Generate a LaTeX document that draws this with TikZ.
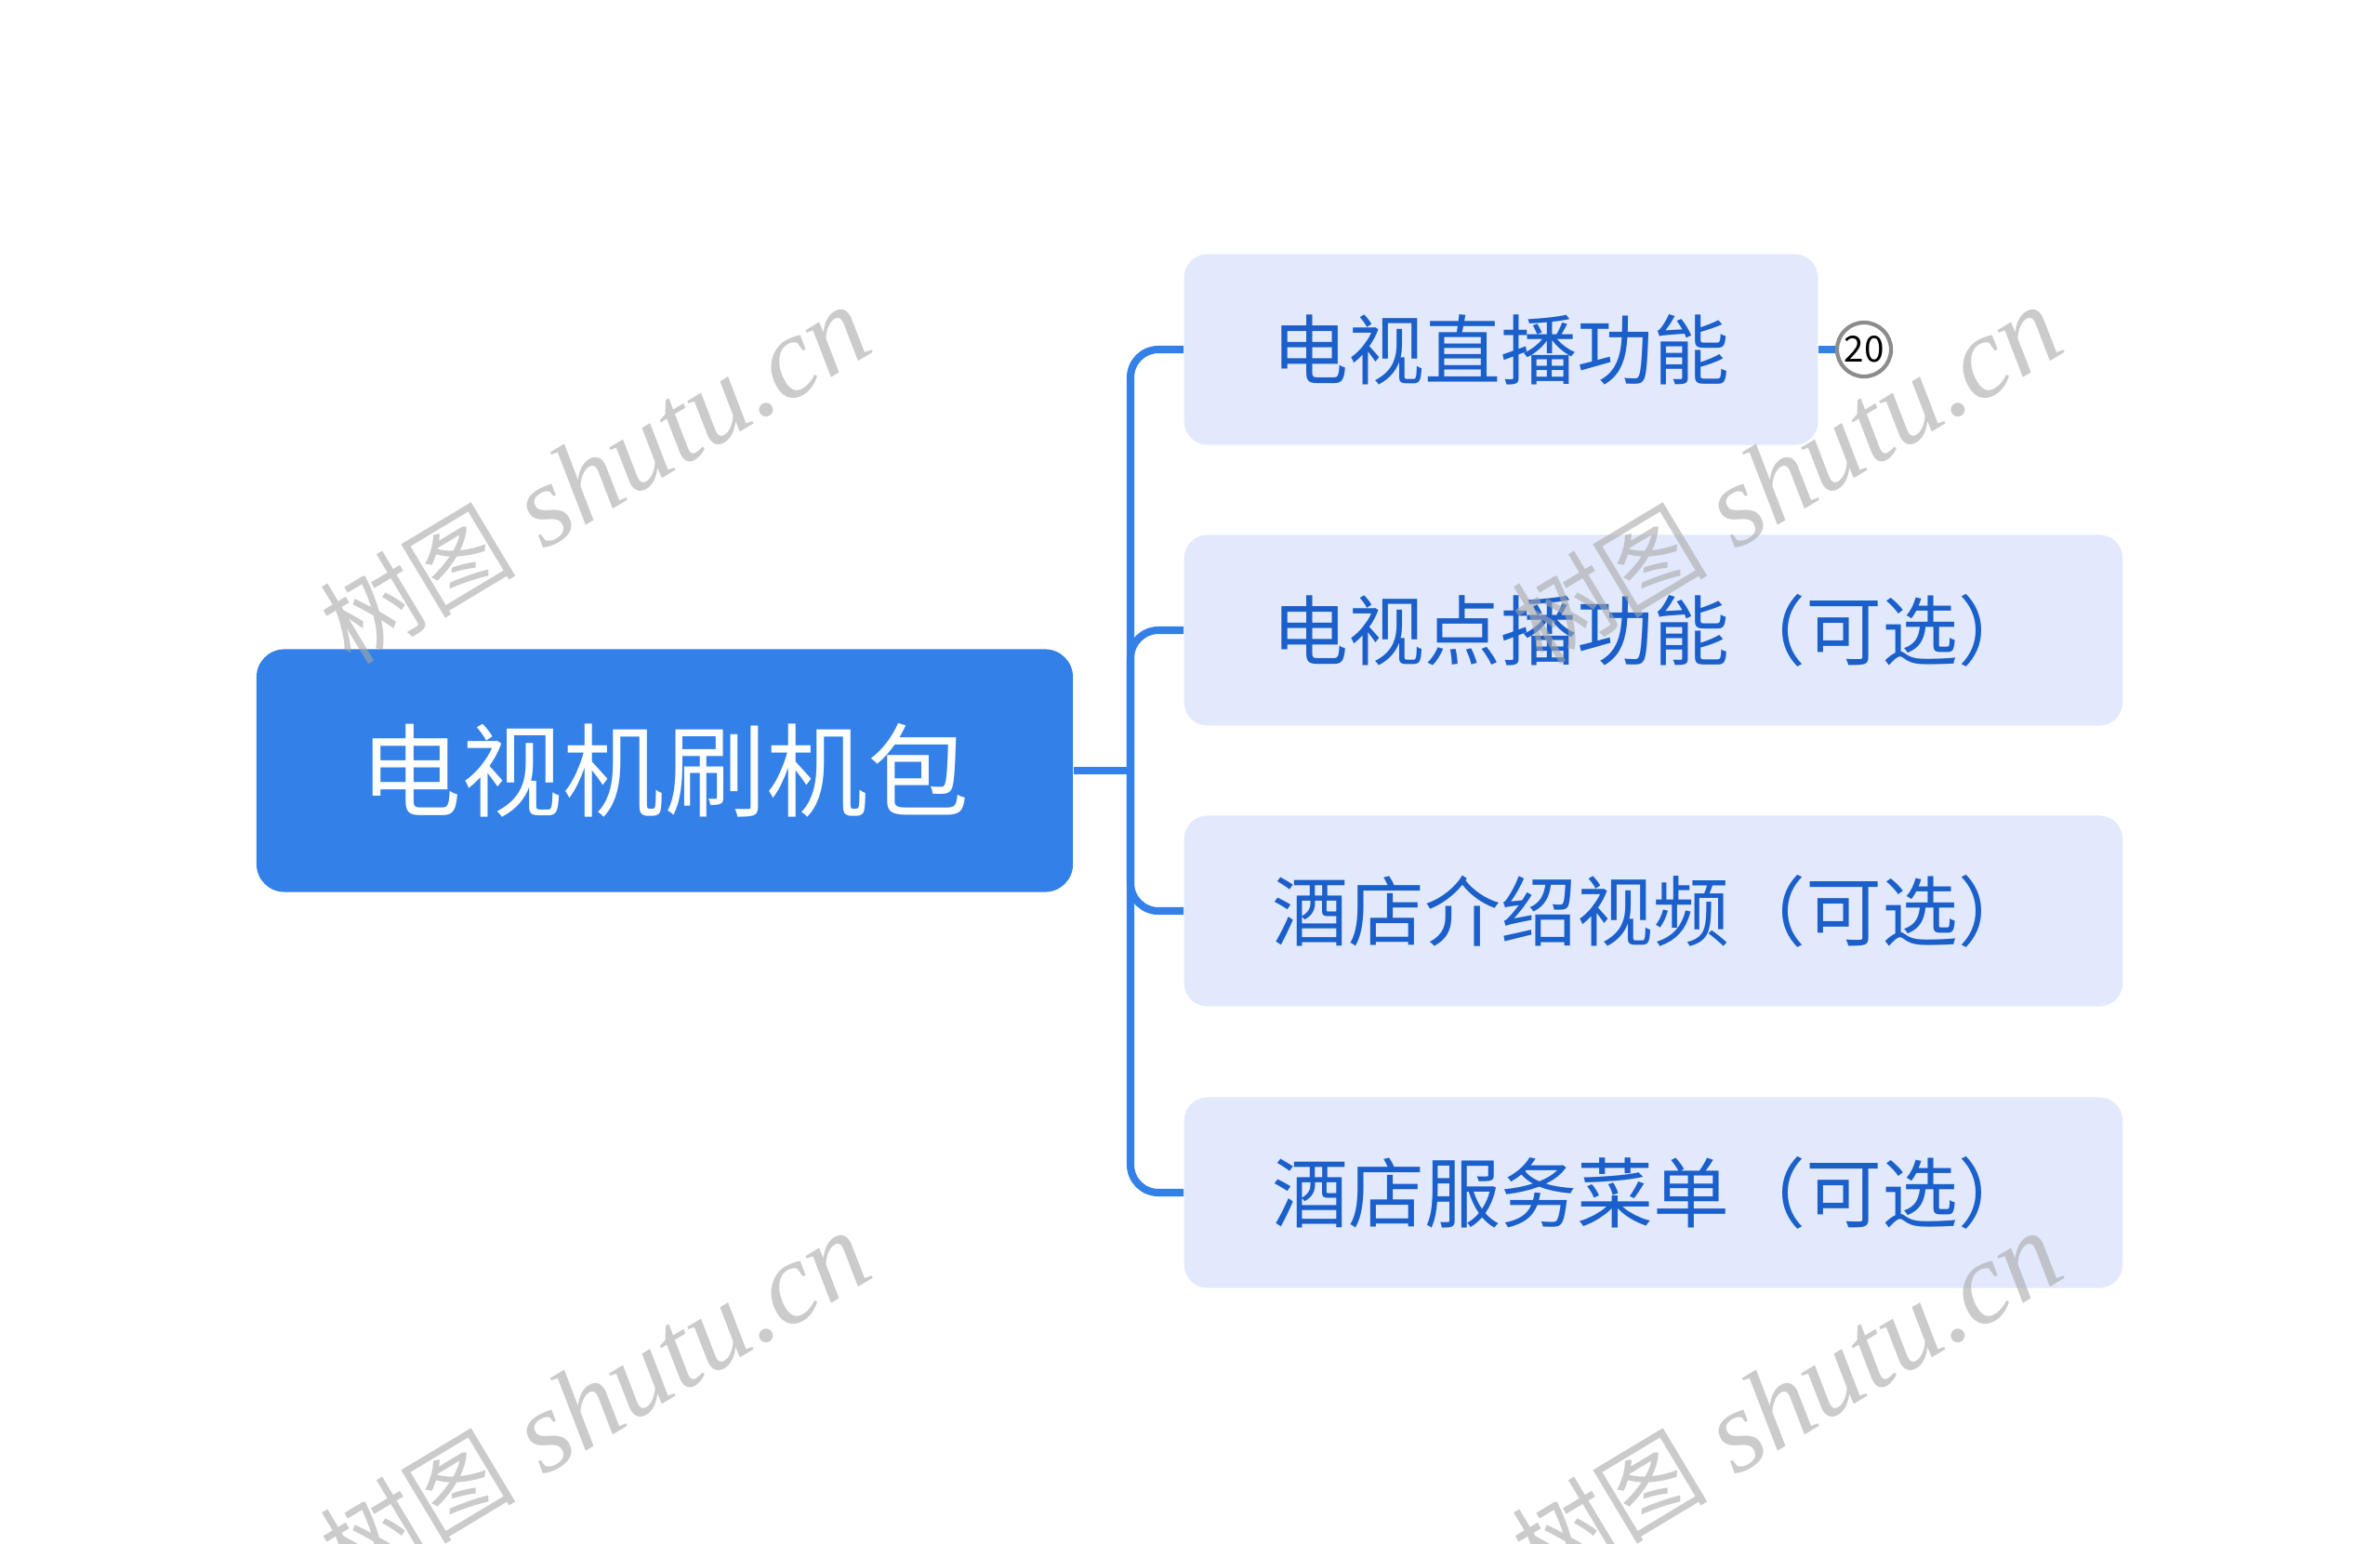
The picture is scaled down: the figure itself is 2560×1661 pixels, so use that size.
\documentclass[tikz,border=0pt]{standalone}
\usepackage{fontspec}
\setmainfont{Noto Sans CJK SC}
\newfontfamily\wmserif{Liberation Serif}
\newfontfamily\wmcjk{Noto Sans CJK SC}
\definecolor{rootblue}{HTML}{3280E8}
\definecolor{topicfill}{HTML}{E2E9FC}
\definecolor{topictext}{HTML}{1B5FCB}
\definecolor{badgegray}{HTML}{8C8C8C}
\definecolor{wmgray}{HTML}{A8A8A8}

\begin{document}
\begin{tikzpicture}[x=0.01cm,y=-0.01cm,
  rootbox/.style={fill=rootblue, rounded corners=0.3cm, inner xsep=1.12cm, inner ysep=0pt,
    minimum height=2.61cm, text=white, font=\fontsize{31}{36}\selectfont},
  topicbox/.style={anchor=west, fill=topicfill, rounded corners=0.25cm, inner xsep=0.95cm,
    inner ysep=0pt, minimum height=2.05cm, text=topictext, font=\fontsize{23.3}{28}\selectfont},
  link/.style={draw=rootblue, line width=2.3pt},
  badge/.style={circle, draw=badgegray, line width=1.2pt, fill=white, minimum size=0.58cm,
    inner sep=0pt, font=\fontsize{11}{13}\selectfont},
  wmtext/.style={rotate=31, text=wmgray, opacity=0.6, font=\wmserif\itshape\fontsize{35.5}{40}\selectfont}]
\useasboundingbox (0,0) rectangle (2560,1661);
\node[rootbox] (root) at (715,829) {电视机刷机包};
\node[topicbox] (live) at (1273,376) {电视直播功能};
\node[topicbox] (vod) at (1273,678) {电视点播功能（可选）};
\node[topicbox] (intro) at (1273,980) {酒店介绍视频（可选）};
\node[topicbox] (menu) at (1273,1283) {酒店服务菜单（可选）};
\coordinate (fork) at (1216,829);
\draw[link] (root.east) -- (fork);
\foreach \t in {live,vod,intro,menu}
  \draw[link,rounded corners=0.3cm] (fork) |- (\t.west);
\node[badge] (count) at (2005,376) {20};
\draw[link] (live.east) -- (count.west);
\foreach \wx/\wy in {640/512,1922/512,640/1508,1922/1508}
  \node[wmtext] at (\wx,\wy) {{\wmcjk\fontsize{30}{34}\selectfont 树图} shutu.cn};
\end{tikzpicture}
\end{document}
